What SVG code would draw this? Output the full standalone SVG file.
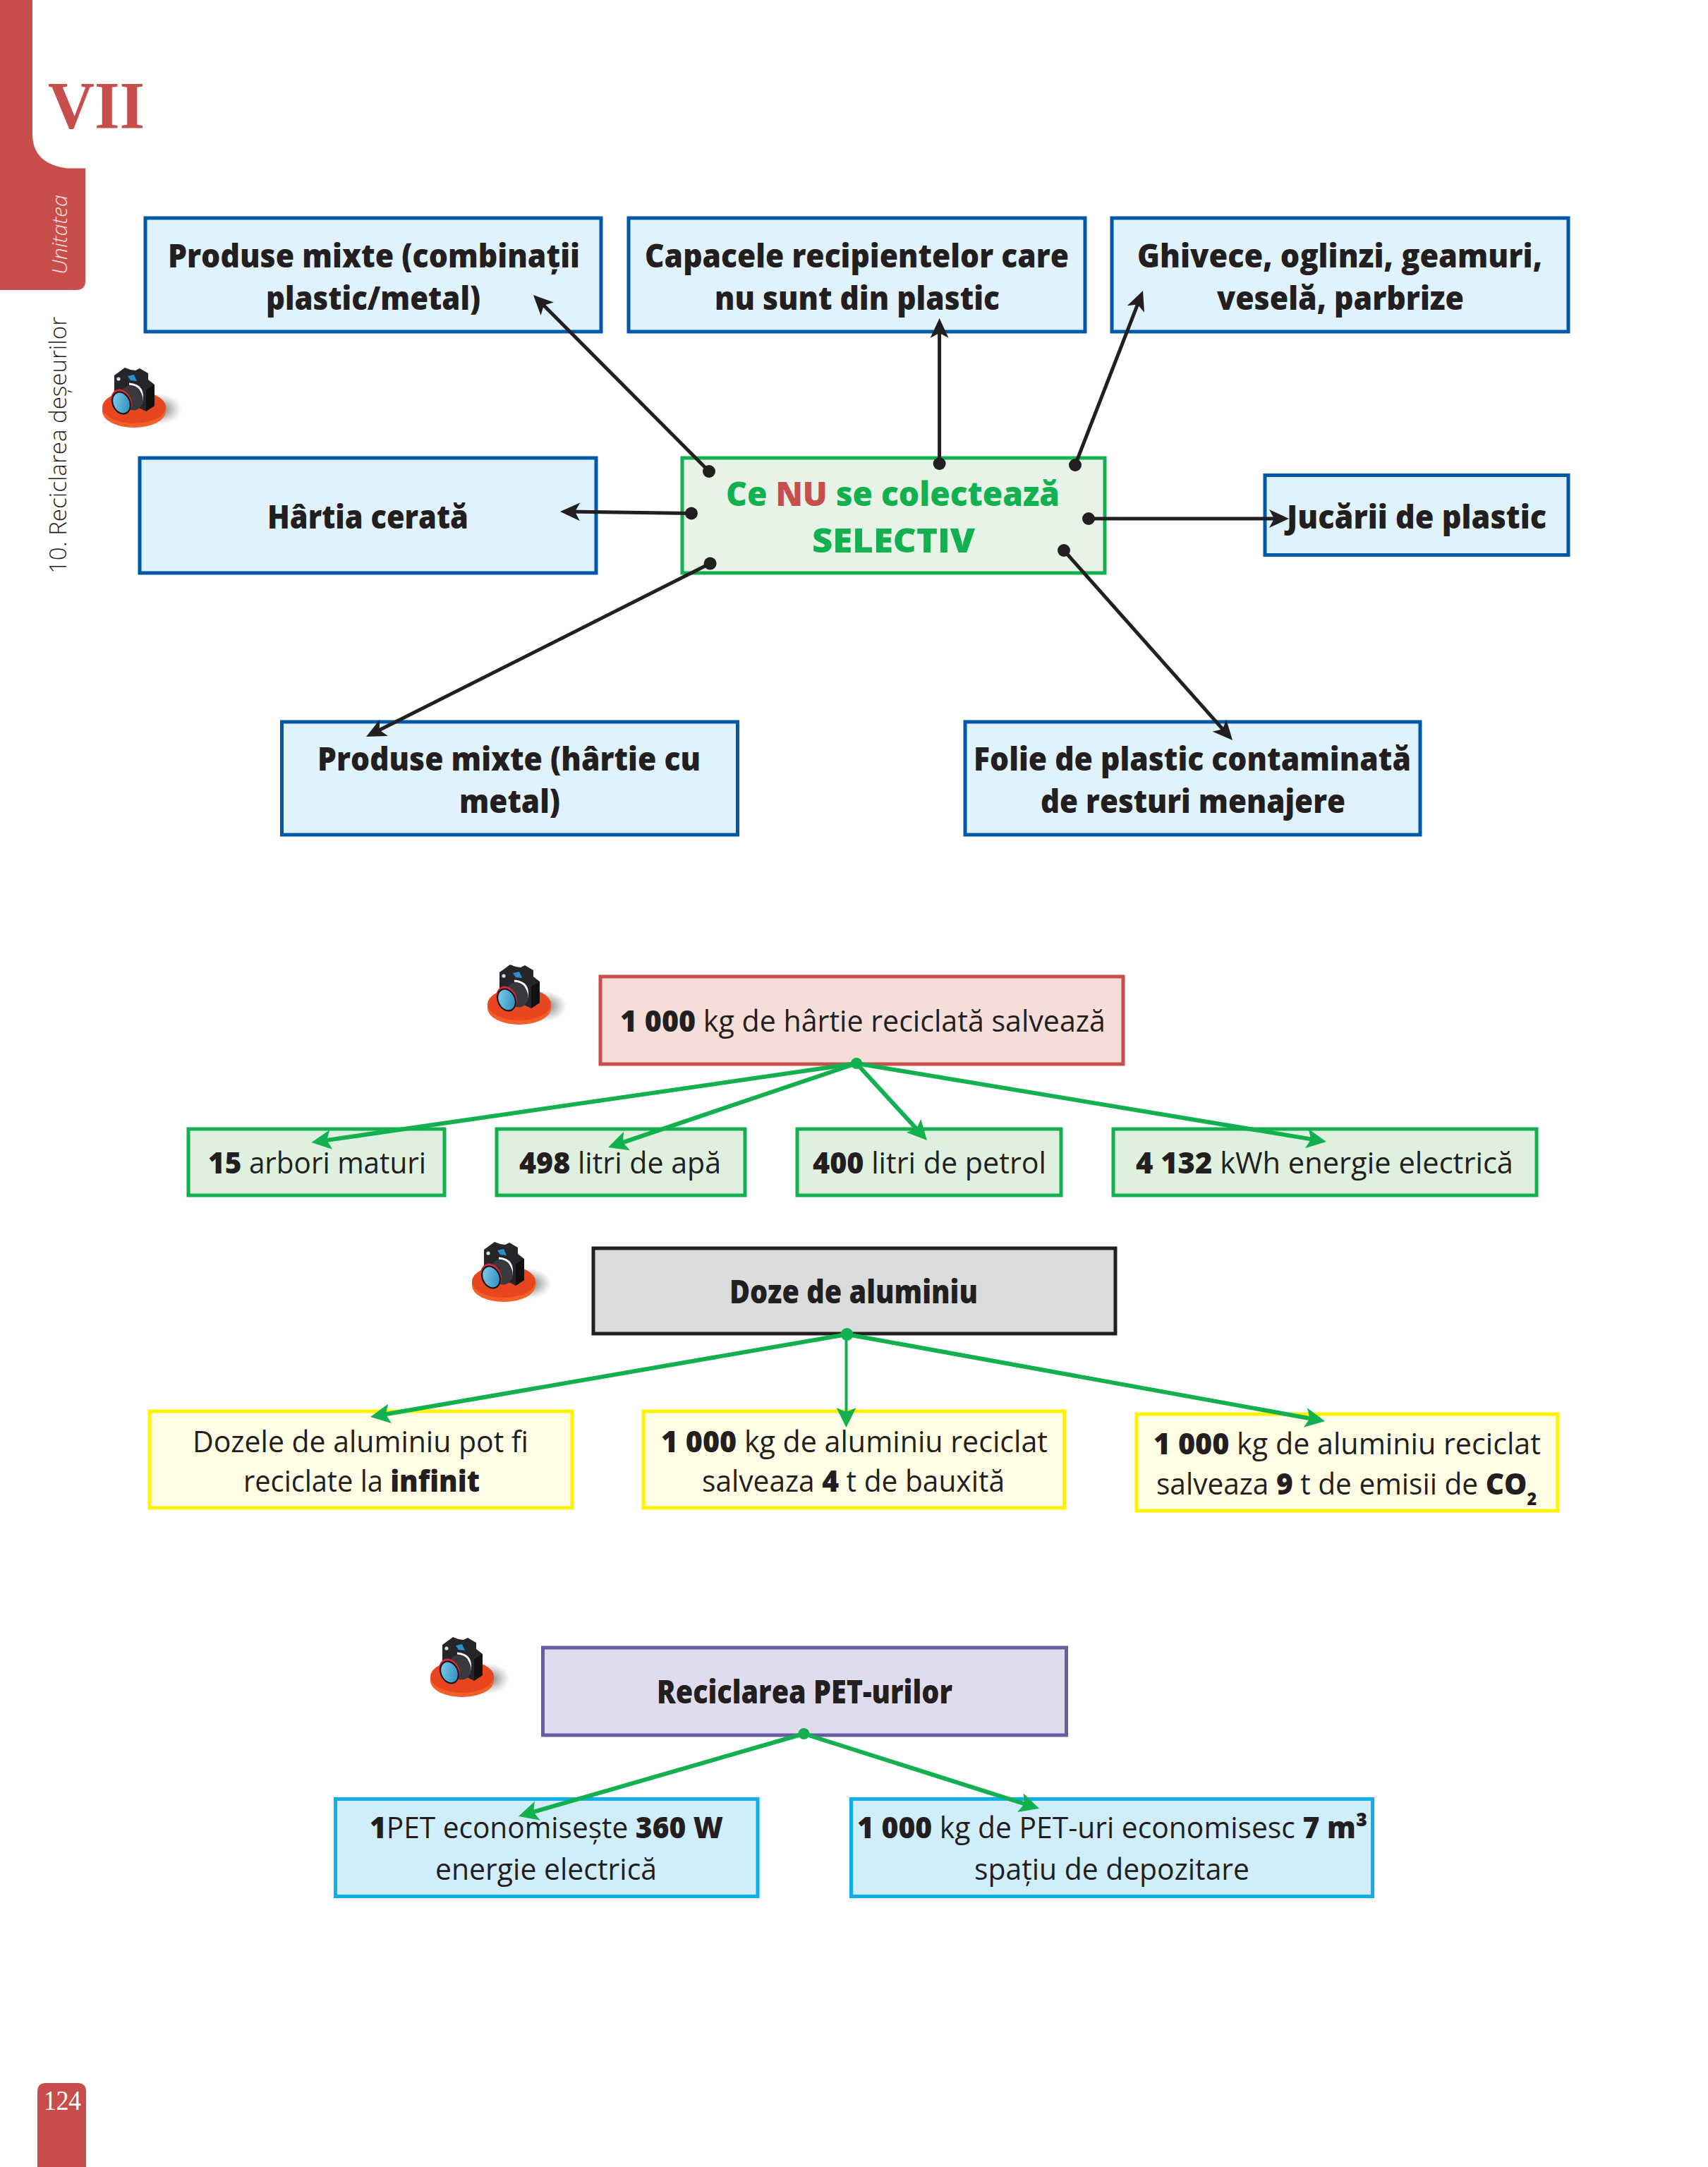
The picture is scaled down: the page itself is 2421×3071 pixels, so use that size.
<svg xmlns="http://www.w3.org/2000/svg" xmlns:xlink="http://www.w3.org/1999/xlink" width="2421" height="3071" viewBox="0 0 2421 3071">
<style>
text{font-family:"Open Sans","Noto Sans",sans-serif;fill:#231f20}
.h{font-size:46px;font-weight:800}
.r{font-size:42px;font-weight:400}
.c{font-size:48px;font-weight:800;fill:#12b04f}
.b{font-weight:800}
.box{stroke-width:5}
.blue{fill:#e0f2fc;stroke:#0059a8}
.gc{fill:#e8f3e7;stroke:#12b04f}
.red{fill:#f5ddd8;stroke:#c84e4b}
.gr{fill:#dff0df;stroke:#12b04f}
.gray{fill:#dadbdc;stroke:#231f20;stroke-width:5}
.yel{fill:#fffde3;stroke:#fff200;stroke-width:5}
.pur{fill:#dfdded;stroke:#6a5ba4}
.cy{fill:#d0edfa;stroke:#0eaeef;stroke-width:5}
.k{stroke:#231f20;stroke-width:5;fill:none;marker-end:url(#ak)}
.g{stroke:#12b04f;stroke-width:6;fill:none;marker-end:url(#ag)}
.serif{font-family:"Liberation Serif",serif}
</style>
<defs>
<marker id="ak" markerUnits="userSpaceOnUse" markerWidth="38" markerHeight="34" refX="18" refY="15" orient="auto"><path d="M0,2 L28,15 L0,28 L7,15Z" fill="#231f20"/></marker>
<marker id="ag" markerUnits="userSpaceOnUse" markerWidth="38" markerHeight="34" refX="18" refY="15" orient="auto"><path d="M0,1 L28,15 L0,29 L6,15Z" fill="#12b04f"/></marker>
<radialGradient id="shd"><stop offset="0" stop-color="#444" stop-opacity=".85"/><stop offset="1" stop-color="#888" stop-opacity="0"/></radialGradient>
<linearGradient id="lens" x1="0" y1="0" x2="1" y2="1"><stop offset="0" stop-color="#8fd4ee"/><stop offset="1" stop-color="#1e84b8"/></linearGradient>
<g id="cam">
<ellipse cx="226" cy="580" rx="32" ry="22" fill="url(#shd)"/>
<path d="M145,577 V583 A45,23 0 0 0 235,583 V577Z" fill="#f45f28"/>
<ellipse cx="190" cy="577" rx="45" ry="23" fill="#e8461f"/>
<path d="M162,532 L177,521 L185,524 L192,525 L198,522 L210,529 L210,538 L219,545 V575 L207,583 L195,577 L162,557Z" fill="#26262a"/>
<path d="M207,583 L219,575 V545 L207,552Z" fill="#111"/>
<path d="M181,533 L190,531 L194,540 L185,539Z" fill="#2e8fd0"/>
<circle cx="168" cy="537" r="2.6" fill="#ddd"/>
<path d="M183,544 Q207,546 200,572" fill="none" stroke="#fff" stroke-width="3"/>
<ellipse cx="187" cy="564" rx="15" ry="18" fill="#3a3a3e" transform="rotate(-25 187 564)"/>
<ellipse cx="172" cy="569" rx="14" ry="18" fill="#d3283a" transform="rotate(-25 172 569)"/>
<ellipse cx="172" cy="571" rx="12" ry="16" fill="url(#lens)" stroke="#111" stroke-width="2" transform="rotate(-25 172 571)"/>
</g>
</defs>
<rect width="2421" height="3071" fill="#fff"/>

<g id="page-tab">
<path d="M0,0 H46 V190 Q46,232 95,238.5 H121 V398 Q121,411 108,411 H0Z" fill="#c84e4b"/>
<text class="serif" x="68" y="181.5" font-size="96" font-weight="700" textLength="137" lengthAdjust="spacingAndGlyphs" style="fill:#c84e4b">VII</text>
<text x="0" y="0" transform="translate(95 389) rotate(-90)" font-size="30" font-style="italic" font-weight="300" textLength="113" lengthAdjust="spacingAndGlyphs" style="fill:#f6e4e2">Unitatea</text>
<text x="0" y="0" transform="translate(94 813) rotate(-90)" font-size="33" font-weight="300" textLength="364" lengthAdjust="spacingAndGlyphs">10. Reciclarea deșeurilor</text>
<path d="M53,3071 V2964 Q53,2952 65,2952 H110 Q122,2952 122,2964 V3071Z" fill="#c84e4b"/>
<text class="serif" x="62" y="2990" font-size="41" textLength="53" lengthAdjust="spacingAndGlyphs" style="fill:#fff">124</text>
</g>

<g id="cameras">
<use xlink:href="#cam" href="#cam"/>
<use xlink:href="#cam" href="#cam" transform="translate(546 846)"/>
<use xlink:href="#cam" href="#cam" transform="translate(524 1239)"/>
<use xlink:href="#cam" href="#cam" transform="translate(465 1799)"/>
</g>

<g id="n-combinatii"><rect class="box blue" x="206" y="309" width="646" height="161"/>
<text class="h" x="238" y="379" textLength="584" lengthAdjust="spacingAndGlyphs">Produse mixte (combinații</text>
<text class="h" x="377" y="439" textLength="304" lengthAdjust="spacingAndGlyphs">plastic/metal)</text></g>
<g id="n-capacele"><rect class="box blue" x="891" y="309" width="647" height="161"/>
<text class="h" x="914" y="379" textLength="601" lengthAdjust="spacingAndGlyphs">Capacele recipientelor care</text>
<text class="h" x="1013" y="439" textLength="404" lengthAdjust="spacingAndGlyphs">nu sunt din plastic</text></g>
<g id="n-ghivece"><rect class="box blue" x="1576" y="309" width="647" height="161"/>
<text class="h" x="1612" y="379" textLength="574" lengthAdjust="spacingAndGlyphs">Ghivece, oglinzi, geamuri,</text>
<text class="h" x="1725" y="439" textLength="350" lengthAdjust="spacingAndGlyphs">veselă, parbrize</text></g>
<g id="n-hartia"><rect class="box blue" x="198" y="649" width="647" height="163"/>
<text class="h" x="379" y="749" textLength="285" lengthAdjust="spacingAndGlyphs">Hârtia cerată</text></g>
<g id="n-center"><rect class="box gc" x="967" y="649" width="599" height="163"/>
<text class="c" x="1029" y="717" textLength="473" lengthAdjust="spacingAndGlyphs">Ce <tspan style="fill:#c84e4b">NU</tspan> se colectează</text>
<text class="c" x="1151" y="783" textLength="231" lengthAdjust="spacingAndGlyphs">SELECTIV</text></g>
<g id="n-jucarii"><rect class="box blue" x="1793" y="673.5" width="430" height="113"/>
<text class="h" x="1824" y="749" textLength="368" lengthAdjust="spacingAndGlyphs">Jucării de plastic</text></g>
<g id="n-hartie-metal"><rect class="box blue" x="399.5" y="1023" width="646" height="160"/>
<text class="h" x="450" y="1092" textLength="543" lengthAdjust="spacingAndGlyphs">Produse mixte (hârtie cu</text>
<text class="h" x="651" y="1152" textLength="143" lengthAdjust="spacingAndGlyphs">metal)</text></g>
<g id="n-folie"><rect class="box blue" x="1368" y="1023" width="645" height="160"/>
<text class="h" x="1380" y="1092" textLength="620" lengthAdjust="spacingAndGlyphs">Folie de plastic contaminată</text>
<text class="h" x="1475" y="1152" textLength="432" lengthAdjust="spacingAndGlyphs">de resturi menajere</text></g>

<g id="n-hartie-reciclata"><rect class="box red" x="851" y="1384" width="741" height="124"/>
<text class="r" x="879" y="1462" textLength="688" lengthAdjust="spacingAndGlyphs"><tspan class="b">1 000</tspan> kg de hârtie reciclată salvează</text></g>
<g id="n-arbori"><rect class="box gr" x="267" y="1600" width="363" height="94"/>
<text class="r" x="295" y="1663" textLength="309" lengthAdjust="spacingAndGlyphs"><tspan class="b">15</tspan> arbori maturi</text></g>
<g id="n-apa"><rect class="box gr" x="704" y="1600" width="352" height="94"/>
<text class="r" x="736" y="1663" textLength="286" lengthAdjust="spacingAndGlyphs"><tspan class="b">498</tspan> litri de apă</text></g>
<g id="n-petrol"><rect class="box gr" x="1130" y="1600" width="374" height="94"/>
<text class="r" x="1152" y="1663" textLength="331" lengthAdjust="spacingAndGlyphs"><tspan class="b">400</tspan> litri de petrol</text></g>
<g id="n-energie"><rect class="box gr" x="1578" y="1600" width="600" height="94"/>
<text class="r" x="1610" y="1663" textLength="535" lengthAdjust="spacingAndGlyphs"><tspan class="b">4 132</tspan> kWh energie electrică</text></g>

<g id="n-doze"><rect class="gray" x="841" y="1769" width="740" height="121"/>
<text class="h" x="1034" y="1847" textLength="352" lengthAdjust="spacingAndGlyphs">Doze de aluminiu</text></g>
<g id="n-infinit"><rect class="yel" x="212" y="2000" width="599" height="137"/>
<text class="r" x="273" y="2058" textLength="476" lengthAdjust="spacingAndGlyphs">Dozele de aluminiu pot fi</text>
<text class="r" x="345" y="2114" textLength="335" lengthAdjust="spacingAndGlyphs">reciclate la <tspan class="b">infinit</tspan></text></g>
<g id="n-bauxita"><rect class="yel" x="912" y="2000" width="597" height="137"/>
<text class="r" x="937" y="2058" textLength="548" lengthAdjust="spacingAndGlyphs"><tspan class="b">1 000</tspan> kg de aluminiu reciclat</text>
<text class="r" x="995" y="2114" textLength="429" lengthAdjust="spacingAndGlyphs">salveaza <tspan class="b">4</tspan> t de bauxită</text></g>
<g id="n-co2"><rect class="yel" x="1611" y="2004" width="597" height="137"/>
<text class="r" x="1635" y="2061" textLength="549" lengthAdjust="spacingAndGlyphs"><tspan class="b">1 000</tspan> kg de aluminiu reciclat</text>
<text class="r" x="1639" y="2118" textLength="539" lengthAdjust="spacingAndGlyphs">salveaza <tspan class="b">9</tspan> t de emisii de <tspan class="b">CO</tspan><tspan class="b" font-size="24" dy="15">2</tspan></text></g>

<g id="n-pet"><rect class="box pur" x="769.5" y="2335" width="742" height="124"/>
<text class="h" x="931" y="2414" textLength="419" lengthAdjust="spacingAndGlyphs">Reciclarea PET-urilor</text></g>
<g id="n-pet-energie"><rect class="cy" x="475.5" y="2549.5" width="598.5" height="138"/>
<text class="r" x="524" y="2605" textLength="501" lengthAdjust="spacingAndGlyphs"><tspan class="b">1</tspan>PET economisește <tspan class="b">360 W</tspan></text>
<text class="r" x="617" y="2664" textLength="314" lengthAdjust="spacingAndGlyphs">energie electrică</text></g>
<g id="n-pet-spatiu"><rect class="cy" x="1206.5" y="2549.5" width="739" height="138"/>
<text class="r" x="1215" y="2605" textLength="723" lengthAdjust="spacingAndGlyphs"><tspan class="b">1 000</tspan> kg de PET-uri economisesc <tspan class="b">7 m³</tspan></text>
<text class="r" x="1381" y="2664" textLength="390" lengthAdjust="spacingAndGlyphs">spațiu de depozitare</text></g>

<g id="connectors">
<path class="k" d="M1005,668 L763,425"/>
<path class="k" d="M980,727.5 L804,725.1"/>
<path class="k" d="M1006.6,798.6 L528,1039.5"/>
<path class="k" d="M1331.6,657 V461"/>
<path class="k" d="M1524,659 L1616.4,421.3"/>
<path class="k" d="M1543,735 H1817"/>
<path class="k" d="M1508,780 L1740.4,1041.5"/>
<g fill="#231f20">
<circle cx="1005" cy="668" r="9"/><circle cx="980" cy="727.5" r="9"/><circle cx="1006.6" cy="798.6" r="9"/><circle cx="1331.6" cy="657" r="9"/><circle cx="1524" cy="659" r="9"/><circle cx="1543" cy="735" r="9"/><circle cx="1508" cy="780" r="9"/>
</g>
<path class="g" d="M1214,1507 L451.4,1617.6"/>
<path class="g" d="M1214,1507 L871.5,1622.8"/>
<path class="g" d="M1214,1507 L1307.2,1608.6"/>
<path class="g" d="M1214,1507 L1870.1,1616.4"/>
<path class="g" d="M1200.5,1891 L534.9,2006.3"/>
<path class="g" style="stroke-width:4" d="M1199.5,1891 V2013"/>
<path class="g" d="M1200.5,1891 L1868.2,2012.2"/>
<path class="g" d="M1139.4,2457 L744.6,2571.2"/>
<path class="g" d="M1139.4,2457 L1463.5,2560"/>
<g fill="#12b04f">
<circle cx="1214" cy="1507" r="8"/><circle cx="1200.5" cy="1891" r="9"/><circle cx="1139.4" cy="2457" r="8"/>
</g>
</g>
</svg>
